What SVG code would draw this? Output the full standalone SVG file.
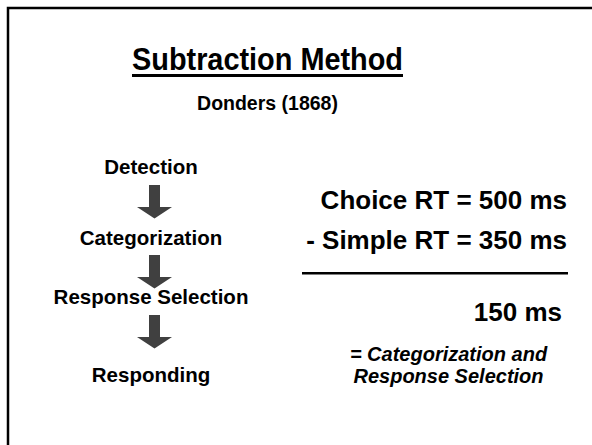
<svg xmlns="http://www.w3.org/2000/svg" width="592" height="445" viewBox="0 0 592 445">
  <style>
    text { font-family: "Liberation Sans", Arial, sans-serif; font-weight: bold; fill: #000; }
    .step { font-size: 20.5px; text-anchor: middle; }
    .eq { font-size: 26px; text-anchor: end; }
    .note { font-size: 20px; font-style: italic; text-anchor: middle; }
    .arrow { fill: #404040; }
  </style>
  <defs>
    <path id="down-arrow" class="arrow" d="M-5.5,0 H5.5 V22 H17.5 L0,33.5 L-17.5,22 H-5.5 Z"/>
  </defs>
  <rect width="592" height="445" fill="#fff"/>
  <!-- slide frame, running off the right and bottom edges -->
  <path d="M8,450 V8 H600" fill="none" stroke="#000" stroke-width="2.5"/>

  <g id="title">
    <text x="132" y="70" style="font-size:30.5px" textLength="271" lengthAdjust="spacingAndGlyphs">Subtraction Method</text>
    <rect x="132" y="74" width="271" height="3"/>
  </g>
  <g id="subtitle">
    <text x="267.5" y="110" text-anchor="middle" style="font-size:19.5px">Donders (1868)</text>
  </g>

  <g id="stage-detection"><text class="step" x="151" y="173.5">Detection</text></g>
  <g id="stage-categorization"><text class="step" x="151" y="245">Categorization</text></g>
  <g id="stage-response-selection"><text class="step" x="151" y="304">Response Selection</text></g>
  <g id="stage-responding"><text class="step" x="151" y="382">Responding</text></g>

  <g id="connectors">
    <use href="#down-arrow" x="154.5" y="185"/>
    <use href="#down-arrow" x="154.5" y="255"/>
    <use href="#down-arrow" x="154.5" y="315"/>
  </g>

  <g id="calculation">
    <text class="eq" x="567" y="209">Choice RT = 500 ms</text>
    <text class="eq" x="567" y="249">- Simple RT = 350 ms</text>
    <rect x="302" y="272" width="266" height="2.5"/>
    <text class="eq" x="562" y="321">150 ms</text>
    <text class="note" x="448.5" y="361">= Categorization and</text>
    <text class="note" x="448.5" y="383">Response Selection</text>
  </g>
</svg>
